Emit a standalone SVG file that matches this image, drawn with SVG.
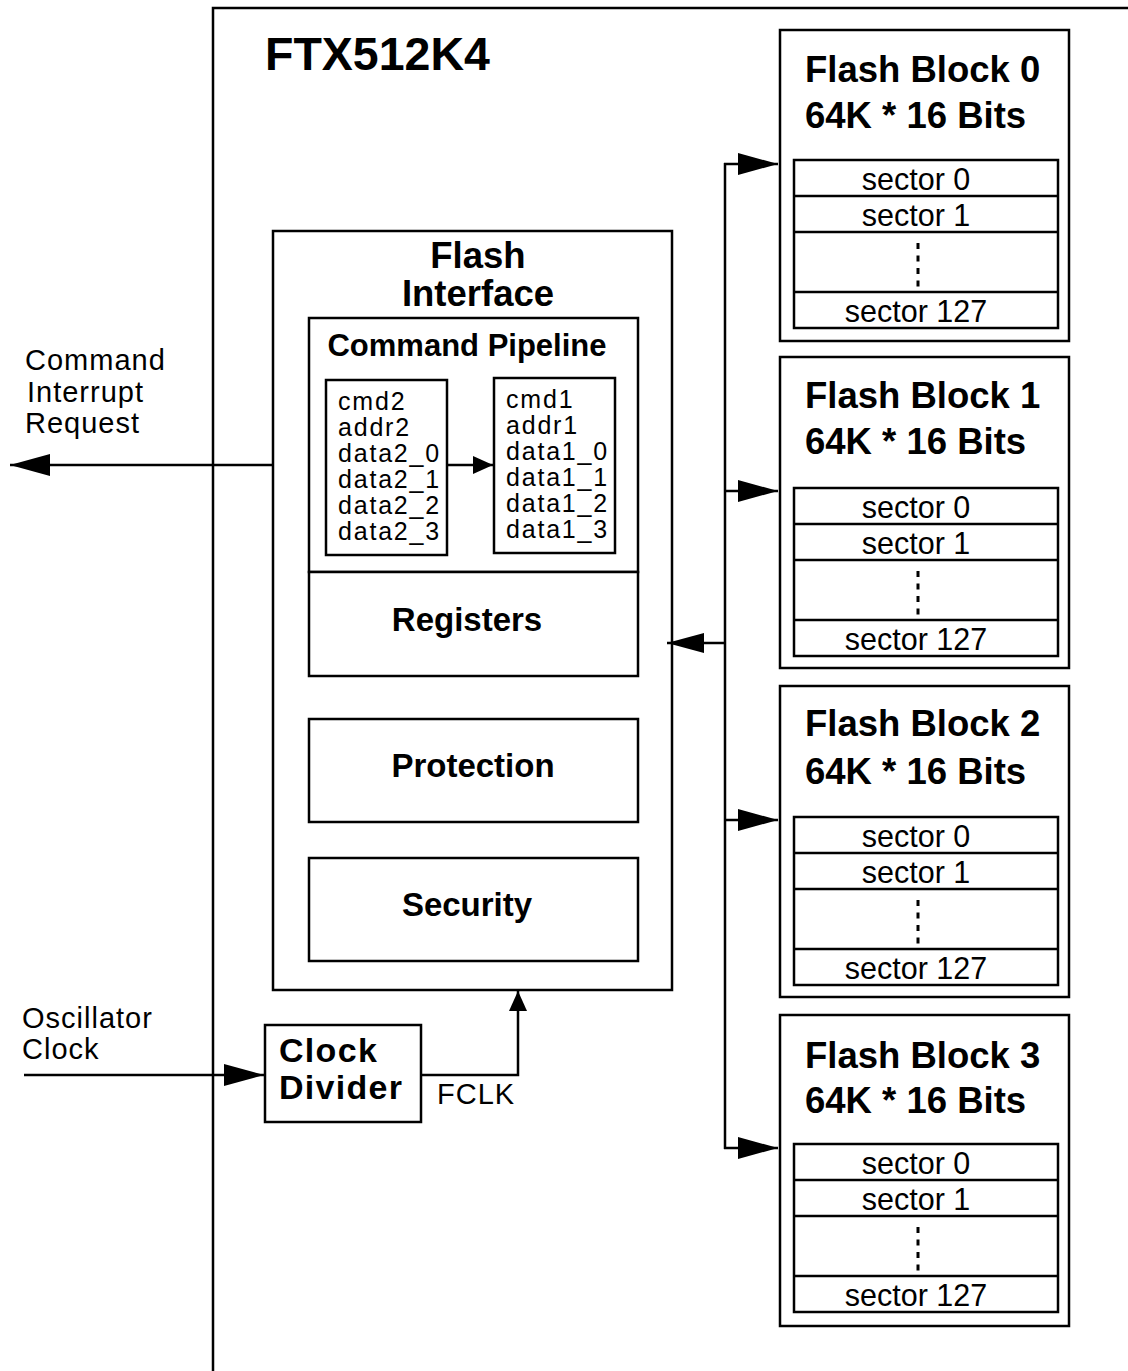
<svg xmlns="http://www.w3.org/2000/svg" width="1128" height="1371" viewBox="0 0 1128 1371">
<style>
.box{fill:#fff;stroke:#000;stroke-width:2.5}
.ln{fill:none;stroke:#000;stroke-width:2.5}
.b{font-family:"Liberation Sans",Arial,sans-serif;font-weight:bold;fill:#000}
.r{font-family:"Liberation Sans",Arial,sans-serif;fill:#000}
.t36{font-size:36.5px}
.t33{font-size:33px}
.ck{font-size:34px;letter-spacing:1.3px}
.lbl{font-size:29px;letter-spacing:1px}
.sec{font-size:30.5px;text-anchor:middle}
.cmd{font-size:25px;letter-spacing:1.8px}
.dots{stroke:#000;stroke-width:3;stroke-dasharray:6 6.5;fill:none}
</style>
<defs>
<marker id="ah" markerUnits="userSpaceOnUse" markerWidth="40" markerHeight="22" refX="40" refY="11" orient="auto">
<path d="M0,0 L40,11 L0,22 z" fill="#000"/>
</marker>
<marker id="ahm" markerUnits="userSpaceOnUse" markerWidth="37" markerHeight="20" refX="37" refY="10" orient="auto">
<path d="M0,0 L37,10 L0,20 z" fill="#000"/>
</marker>
<marker id="ahs" markerUnits="userSpaceOnUse" markerWidth="20" markerHeight="18" refX="20" refY="9" orient="auto">
<path d="M0,0 L20,9 L0,18 z" fill="#000"/>
</marker>
<g id="sectors">
<rect class="box" x="794" y="0" width="264" height="168"/>
<line class="ln" x1="794" y1="36" x2="1058" y2="36"/>
<line class="ln" x1="794" y1="72" x2="1058" y2="72"/>
<line class="ln" x1="794" y1="132" x2="1058" y2="132"/>
<text class="r sec" x="916" y="30">sector 0</text>
<text class="r sec" x="916" y="66">sector 1</text>
<line class="dots" x1="918" y1="83" x2="918" y2="127"/>
<text class="r sec" x="916" y="162">sector 127</text>
</g>
</defs>

<g id="frame">
<path class="ln" d="M213,1371 V8 H1128" stroke-width="3"/>
<text class="b" x="265" y="70" font-size="46.5">FTX512K4</text>
</g>

<g id="flash-block-0">
<rect class="box" x="780" y="30" width="289" height="311"/>
<text class="b t36" x="805" y="82">Flash Block 0</text>
<text class="b t36" x="805" y="128">64K * 16 Bits</text>
<use href="#sectors" y="160"/>
</g>
<g id="flash-block-1">
<rect class="box" x="780" y="357" width="289" height="311"/>
<text class="b t36" x="805" y="408">Flash Block 1</text>
<text class="b t36" x="805" y="454">64K * 16 Bits</text>
<use href="#sectors" y="488"/>
</g>
<g id="flash-block-2">
<rect class="box" x="780" y="686" width="289" height="311"/>
<text class="b t36" x="805" y="736">Flash Block 2</text>
<text class="b t36" x="805" y="784">64K * 16 Bits</text>
<use href="#sectors" y="817"/>
</g>
<g id="flash-block-3">
<rect class="box" x="780" y="1015" width="289" height="311"/>
<text class="b t36" x="805" y="1068">Flash Block 3</text>
<text class="b t36" x="805" y="1113">64K * 16 Bits</text>
<use href="#sectors" y="1144"/>
</g>

<g id="flash-interface">
<rect class="box" x="273" y="231" width="399" height="759"/>
<text class="b t36" x="478" y="268" text-anchor="middle">Flash</text>
<text class="b t36" x="478" y="306" text-anchor="middle">Interface</text>
</g>
<g id="command-pipeline">
<rect class="box" x="309" y="318" width="329" height="254"/>
<text class="b" x="467" y="356" font-size="31" text-anchor="middle">Command Pipeline</text>
</g>
<g id="stage2">
<rect class="box" x="326" y="380" width="121" height="175"/>
<text class="r cmd" x="338" y="410">cmd2</text>
<text class="r cmd" x="338" y="436">addr2</text>
<text class="r cmd" x="338" y="462">data2_0</text>
<text class="r cmd" x="338" y="488">data2_1</text>
<text class="r cmd" x="338" y="514">data2_2</text>
<text class="r cmd" x="338" y="540">data2_3</text>
</g>
<g id="stage1">
<rect class="box" x="494" y="378" width="121" height="175"/>
<text class="r cmd" x="506" y="408">cmd1</text>
<text class="r cmd" x="506" y="434">addr1</text>
<text class="r cmd" x="506" y="460">data1_0</text>
<text class="r cmd" x="506" y="486">data1_1</text>
<text class="r cmd" x="506" y="512">data1_2</text>
<text class="r cmd" x="506" y="538">data1_3</text>
</g>
<g id="registers">
<rect class="box" x="309" y="572" width="329" height="104"/>
<text class="b t33" x="467" y="631" text-anchor="middle">Registers</text>
</g>
<g id="protection">
<rect class="box" x="309" y="719" width="329" height="103"/>
<text class="b t33" x="473" y="777" text-anchor="middle">Protection</text>
</g>
<g id="security">
<rect class="box" x="309" y="858" width="329" height="103"/>
<text class="b t33" x="467" y="916" text-anchor="middle">Security</text>
</g>
<g id="clock-divider">
<rect class="box" x="265" y="1025" width="156" height="97"/>
<text class="b ck" x="279" y="1062">Clock</text>
<text class="b ck" x="279" y="1099">Divider</text>
</g>

<g id="labels">
<text class="r lbl" x="25" y="370">Command</text>
<text class="r lbl" x="27" y="402">Interrupt</text>
<text class="r lbl" x="25" y="433">Request</text>
<text class="r lbl" x="22" y="1028">Oscillator</text>
<text class="r lbl" x="22" y="1059">Clock</text>
<text class="r lbl" x="437" y="1104">FCLK</text>
</g>

<g id="connectors">
<line class="ln" x1="725" y1="163" x2="725" y2="1149"/>
<line class="ln" x1="724" y1="164" x2="778" y2="164" marker-end="url(#ah)"/>
<line class="ln" x1="724" y1="491" x2="778" y2="491" marker-end="url(#ah)"/>
<line class="ln" x1="724" y1="820" x2="778" y2="820" marker-end="url(#ah)"/>
<line class="ln" x1="724" y1="1148" x2="778" y2="1148" marker-end="url(#ah)"/>
<line class="ln" x1="726" y1="643" x2="667" y2="643" marker-end="url(#ahm)"/>
<line class="ln" x1="273" y1="465" x2="10" y2="465" marker-end="url(#ah)"/>
<line class="ln" x1="447" y1="465" x2="493" y2="465" marker-end="url(#ahs)"/>
<line class="ln" x1="24" y1="1075" x2="264" y2="1075" marker-end="url(#ah)"/>
<polyline class="ln" points="421,1075 518,1075 518,991" marker-end="url(#ahs)"/>
</g>
</svg>
